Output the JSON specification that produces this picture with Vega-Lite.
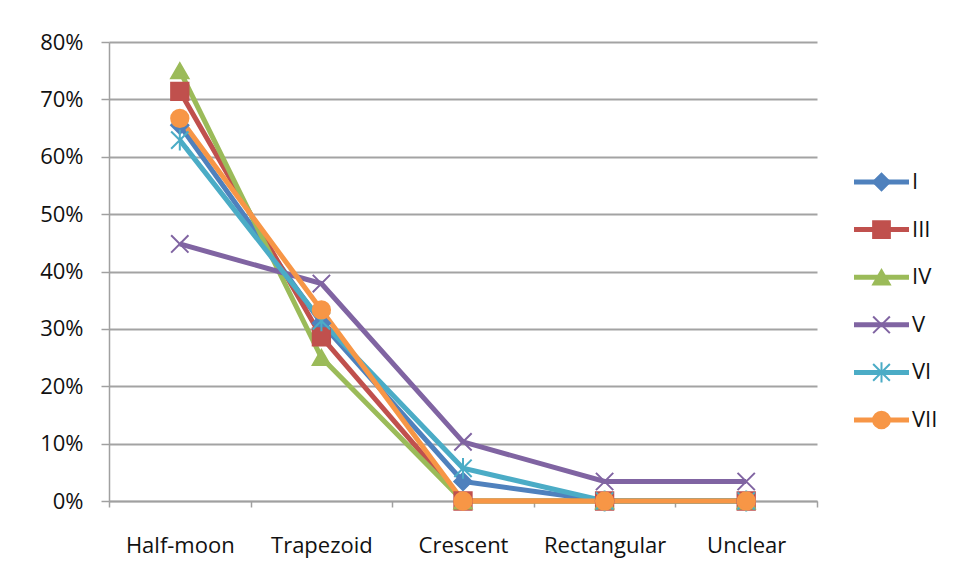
{
  "$schema": "https://vega.github.io/schema/vega-lite/v6.json",
  "background": "white",
  "padding": {"left": 39, "top": 31, "right": 5, "bottom": 5},
  "bounds": "flush",
  "spacing": 37,
  "config": {
    "view": {"stroke": null},
    "font": "Open Sans",
    "axis": {"labelFont": "Open Sans", "labelFontSize": 22, "labelColor": "#111111"}
  },
  "datasets": {
    "main": [
      {"shape": "Half-moon", "series": "I", "value": 0.655},
      {"shape": "Trapezoid", "series": "I", "value": 0.31},
      {"shape": "Crescent", "series": "I", "value": 0.034},
      {"shape": "Rectangular", "series": "I", "value": 0},
      {"shape": "Unclear", "series": "I", "value": 0},
      {"shape": "Half-moon", "series": "III", "value": 0.714},
      {"shape": "Trapezoid", "series": "III", "value": 0.286},
      {"shape": "Crescent", "series": "III", "value": 0},
      {"shape": "Rectangular", "series": "III", "value": 0},
      {"shape": "Unclear", "series": "III", "value": 0},
      {"shape": "Half-moon", "series": "IV", "value": 0.75},
      {"shape": "Trapezoid", "series": "IV", "value": 0.25},
      {"shape": "Crescent", "series": "IV", "value": 0},
      {"shape": "Rectangular", "series": "IV", "value": 0},
      {"shape": "Unclear", "series": "IV", "value": 0},
      {"shape": "Half-moon", "series": "V", "value": 0.448},
      {"shape": "Trapezoid", "series": "V", "value": 0.379},
      {"shape": "Crescent", "series": "V", "value": 0.103},
      {"shape": "Rectangular", "series": "V", "value": 0.034},
      {"shape": "Unclear", "series": "V", "value": 0.034},
      {"shape": "Half-moon", "series": "VI", "value": 0.629},
      {"shape": "Trapezoid", "series": "VI", "value": 0.314},
      {"shape": "Crescent", "series": "VI", "value": 0.057},
      {"shape": "Rectangular", "series": "VI", "value": 0},
      {"shape": "Unclear", "series": "VI", "value": 0},
      {"shape": "Half-moon", "series": "VII", "value": 0.667},
      {"shape": "Trapezoid", "series": "VII", "value": 0.333},
      {"shape": "Crescent", "series": "VII", "value": 0},
      {"shape": "Rectangular", "series": "VII", "value": 0},
      {"shape": "Unclear", "series": "VII", "value": 0}
    ],
    "legend": [
      {"series": "I"}, {"series": "III"}, {"series": "IV"},
      {"series": "V"}, {"series": "VI"}, {"series": "VII"}
    ]
  },
  "hconcat": [
    {
      "width": 708,
      "height": 459,
      "data": {"name": "main"},
      "encoding": {
        "x": {
          "field": "shape", "type": "nominal",
          "sort": ["Half-moon", "Trapezoid", "Crescent", "Rectangular", "Unclear"],
          "scale": {"type": "band", "paddingInner": 0, "paddingOuter": 0},
          "axis": {
            "title": null, "labelAngle": 0, "tickBand": "extent", "tickSize": 6,
            "labelPadding": 28, "domainColor": "#a0a0a0", "tickColor": "#a0a0a0",
            "domainWidth": 1.5, "tickWidth": 1.5, "grid": false
          }
        },
        "y": {
          "field": "value", "type": "quantitative",
          "scale": {"domain": [0, 0.8], "nice": false},
          "axis": {
            "title": null, "format": ".0%",
            "values": [0, 0.1, 0.2, 0.3, 0.4, 0.5, 0.6, 0.7, 0.8],
            "tickSize": 8, "labelPadding": 18, "domainColor": "#a0a0a0",
            "tickColor": "#a0a0a0", "domainWidth": 1.5, "tickWidth": 1.5,
            "grid": true, "gridColor": "#a3a3a3", "gridWidth": 2
          }
        },
        "color": {
          "field": "series", "type": "nominal",
          "scale": {
            "domain": ["I", "III", "IV", "V", "VI", "VII"],
            "range": ["#4F81BD", "#C0504D", "#9BBB59", "#8064A2", "#4BACC6", "#F79646"]
          },
          "legend": null
        }
      },
      "layer": [
        {"mark": {"type": "line", "strokeWidth": 5}},
        {
          "mark": {"type": "point", "filled": true, "size": 300, "strokeWidth": 2, "opacity": 1},
          "encoding": {
            "shape": {
              "field": "series", "type": "nominal",
              "scale": {
                "domain": ["I", "III", "IV", "V", "VI", "VII"],
                "range": ["diamond", "square", "triangle-up", "M-1,-1L1,1M-1,1L1,-1", "M-1,-1L1,1M-1,1L1,-1M0,-1.2L0,1.2", "circle"]
              },
              "legend": null
            },
            "stroke": {
              "field": "series", "type": "nominal",
              "scale": {
                "domain": ["I", "III", "IV", "V", "VI", "VII"],
                "range": ["#4F81BD", "#C0504D", "#9BBB59", "#8064A2", "#4BACC6", "#F79646"]
              },
              "legend": null
            }
          }
        }
      ]
    },
    {
      "width": 55,
      "height": 459,
      "data": {"name": "legend"},
      "encoding": {
        "y": {
          "field": "series", "type": "nominal",
          "sort": ["I", "III", "IV", "V", "VI", "VII"],
          "scale": {"type": "point", "padding": 0, "range": [140, 378]},
          "axis": null
        },
        "color": {
          "field": "series", "type": "nominal",
          "scale": {
            "domain": ["I", "III", "IV", "V", "VI", "VII"],
            "range": ["#4F81BD", "#C0504D", "#9BBB59", "#8064A2", "#4BACC6", "#F79646"]
          },
          "legend": null
        }
      },
      "layer": [
        {
          "mark": {"type": "rule", "strokeWidth": 5},
          "encoding": {
            "x": {"datum": 0, "type": "quantitative", "scale": {"domain": [0, 1]}, "axis": null},
            "x2": {"datum": 1}
          }
        },
        {
          "mark": {"type": "point", "filled": true, "size": 280, "strokeWidth": 2, "opacity": 1},
          "encoding": {
            "x": {"datum": 0.5, "type": "quantitative"},
            "shape": {
              "field": "series", "type": "nominal",
              "scale": {
                "domain": ["I", "III", "IV", "V", "VI", "VII"],
                "range": ["diamond", "square", "triangle-up", "M-1,-1L1,1M-1,1L1,-1", "M-1,-1L1,1M-1,1L1,-1M0,-1.2L0,1.2", "circle"]
              },
              "legend": null
            },
            "stroke": {
              "field": "series", "type": "nominal",
              "scale": {
                "domain": ["I", "III", "IV", "V", "VI", "VII"],
                "range": ["#4F81BD", "#C0504D", "#9BBB59", "#8064A2", "#4BACC6", "#F79646"]
              },
              "legend": null
            }
          }
        },
        {
          "mark": {"type": "text", "align": "left", "baseline": "middle", "dx": 3, "fontSize": 22, "font": "Open Sans"},
          "encoding": {
            "x": {"datum": 1, "type": "quantitative"},
            "text": {"field": "series"},
            "color": {"value": "#111111"}
          }
        }
      ]
    }
  ]
}
